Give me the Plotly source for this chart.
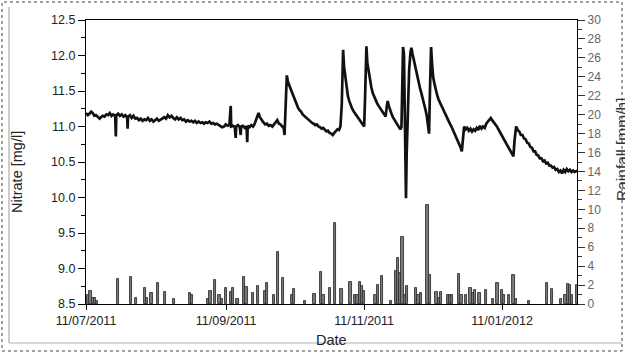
import pandas as pd
import plotly.graph_objects as go

START = "2011-07-11"

# Nitrate [mg/l]: days after 11/07/2011, value
nitrate_day = [
    0, 0.8, 1.5, 2.3, 3.0, 3.7, 4.4, 5.2, 6.0, 6.6, 7.4, 8.2, 9.0, 9.8, 10.5, 11.3, 12.0, 12.9, 13.2, 13.4,
    14.2, 15.0, 15.8, 16.6, 17.4, 18.2, 18.4, 18.6, 19.4, 20.2, 21.0, 21.8, 22.6, 23.4, 24.2, 25.0, 25.8, 26.6,
    27.4, 28.2, 29.0, 29.8, 30.6, 31.4, 32.2, 33.0, 33.8, 34.6, 35.4, 36.2, 37.0, 37.8, 38.6, 39.4, 40.2, 41.0,
    41.8, 42.6, 43.4, 44.2, 45.0, 45.8, 46.6, 47.4, 48.2, 49.0, 49.8, 50.6, 51.4, 52.2, 53.0, 53.8, 54.6, 55.4,
    56.2, 57.0, 57.8, 58.6, 59.4, 60.2, 61.0, 61.8, 62.6, 63.4, 64.0, 64.2, 65.0, 65.8, 66.2, 66.4, 67.2, 68.0,
    68.4, 68.6, 69.4, 70.2, 71.0, 71.3, 71.5, 72.3, 73.1, 73.9, 74.6, 75.2, 75.8, 76.3, 76.9, 77.6, 78.4, 79.2,
    80.0, 80.8, 81.6, 82.4, 83.2, 84.0, 84.6, 85.3, 86.0, 86.8, 87.4, 87.8, 88.2, 88.8, 89.3, 89.8, 90.4, 91.0,
    91.6, 92.3, 93.0, 93.7, 94.4, 95.1, 95.8, 96.5, 97.2, 97.9, 98.6, 99.3, 100.0, 100.7, 101.4, 102.1, 102.8,
    103.5, 104.2, 104.9, 105.6, 106.3, 107.0, 107.7, 108.4, 109.1, 109.8, 110.5, 111.2, 111.9, 112.5, 113.1,
    113.7, 114.1, 114.6, 115.2, 115.8, 116.4, 117.0, 117.7, 118.4, 119.1, 119.8, 120.5, 121.2, 121.9, 122.5,
    123.0, 123.4, 124.0, 124.4, 125.0, 125.6, 126.2, 126.8, 127.4, 128.0, 128.7, 129.4, 130.1, 130.8, 131.5,
    132.1, 132.5, 133.0, 133.4, 133.9, 134.5, 135.1, 135.7, 136.4, 137.1, 137.8, 138.4, 139.0, 139.5, 139.9,
    140.2, 140.6, 140.9, 141.2, 141.5, 141.8, 142.3, 142.9, 143.5, 143.9, 144.4, 144.9, 145.5, 146.0, 146.5,
    147.1, 147.7, 148.3, 148.9, 149.5, 150.1, 150.7, 151.2, 151.7, 152.1, 152.6, 153.0, 153.5, 154.1, 154.7,
    155.3, 155.9, 156.6, 157.3, 158.0, 158.8, 159.5, 160.2, 160.9, 161.6, 162.3, 163.0, 163.7, 164.4, 165.1,
    165.7, 166.2, 166.6, 167.2, 167.9, 168.6, 169.3, 170.0, 170.7, 171.4, 172.1, 172.8, 173.5, 174.2, 174.9,
    175.6, 176.3, 177.0, 177.7, 178.4, 179.0, 179.6, 180.3, 181.0, 181.7, 182.4, 183.1, 183.8, 184.5, 185.2,
    185.9, 186.6, 187.3, 188.0, 188.6, 189.0, 189.5, 190.2, 190.9, 191.6, 192.3, 193.0, 193.7, 194.4, 195.1,
    195.8, 196.5, 197.2, 197.9, 198.6, 199.3, 200.0, 200.7, 201.4, 202.1, 202.8, 203.5, 204.2, 204.9, 205.6,
    206.3, 207.0, 207.7, 208.4, 209.1, 209.8, 210.5, 211.2, 211.9, 212.6, 213.3, 214.0, 214.7, 215.4, 216.1,
    216.8, 217.1,
]
nitrate_val = [
    11.19, 11.16, 11.18, 11.21, 11.19, 11.15, 11.16, 11.13, 11.11, 11.13, 11.15, 11.14, 11.17, 11.16, 11.19,
    11.15, 11.17, 11.15, 10.86, 11.16, 11.18, 11.15, 11.17, 11.14, 11.16, 11.13, 10.97, 11.14, 11.16, 11.12,
    11.15, 11.11, 11.12, 11.09, 11.11, 11.08, 11.10, 11.09, 11.12, 11.08, 11.10, 11.07, 11.09, 11.11, 11.08,
    11.10, 11.11, 11.13, 11.11, 11.16, 11.13, 11.15, 11.12, 11.10, 11.13, 11.10, 11.12, 11.09, 11.10, 11.07,
    11.09, 11.07, 11.08, 11.06, 11.08, 11.05, 11.07, 11.05, 11.06, 11.04, 11.06, 11.05, 11.07, 11.04, 11.05,
    11.03, 11.04, 11.02, 11.01, 10.99, 11.00, 11.03, 11.01, 11.02, 11.29, 11.00, 11.01, 10.99, 10.84, 11.00,
    11.02, 10.99, 10.88, 11.00, 11.01, 10.98, 11.00, 10.78, 11.01, 10.99, 11.02, 11.00, 11.04, 11.09, 11.16,
    11.19, 11.13, 11.09, 11.06, 11.03, 11.04, 11.01, 11.02, 11.00, 11.03, 11.07, 11.09, 11.04, 11.03, 11.00,
    10.98, 10.88, 11.20, 11.72, 11.63, 11.58, 11.52, 11.49, 11.44, 11.38, 11.33, 11.27, 11.23, 11.21, 11.17,
    11.15, 11.13, 11.10, 11.09, 11.07, 11.05, 11.04, 11.02, 11.03, 11.00, 10.99, 10.97, 10.98, 10.95, 10.93,
    10.94, 10.91, 10.90, 10.88, 10.91, 10.93, 10.96, 10.95, 11.00, 11.30, 12.08, 11.85, 11.70, 11.55, 11.43,
    11.36, 11.30, 11.25, 11.21, 11.18, 11.14, 11.11, 11.08, 11.05, 11.03, 11.00, 11.40, 12.13, 11.90, 11.76,
    11.65, 11.55, 11.47, 11.42, 11.37, 11.33, 11.29, 11.26, 11.22, 11.19, 11.16, 11.14, 11.28, 11.36, 11.29,
    11.22, 11.18, 11.13, 11.09, 11.05, 11.01, 10.98, 10.96, 10.99, 11.60, 12.12, 12.02, 11.30, 10.50, 9.99,
    10.60, 11.30, 11.80, 12.05, 12.11, 12.02, 11.94, 11.84, 11.76, 11.70, 11.62, 11.54, 11.47, 11.40, 11.33,
    11.24, 11.15, 11.05, 10.90, 11.50, 12.12, 11.90, 11.70, 11.60, 11.50, 11.44, 11.38, 11.33, 11.28, 11.24,
    11.19, 11.14, 11.09, 11.04, 11.00, 10.95, 10.91, 10.86, 10.80, 10.75, 10.70, 10.65, 10.82, 11.00, 10.96,
    10.98, 10.94, 10.97, 10.93, 10.96, 10.94, 10.98, 10.95, 11.01, 10.97, 11.00, 10.98, 11.04, 11.07, 11.10,
    11.12, 11.09, 11.05, 11.03, 11.00, 10.96, 10.93, 10.89, 10.85, 10.81, 10.77, 10.73, 10.69, 10.65, 10.61,
    10.58, 10.80, 11.00, 10.95, 10.93, 10.88, 10.88, 10.83, 10.82, 10.77, 10.76, 10.71, 10.70, 10.65, 10.65,
    10.60, 10.59, 10.55, 10.55, 10.51, 10.52, 10.48, 10.49, 10.45, 10.45, 10.42, 10.43, 10.39, 10.40, 10.36,
    10.38, 10.34, 10.39, 10.36, 10.40, 10.37, 10.39, 10.36, 10.38, 10.36, 10.37, 10.36,
]

# Rainfall [mm/h]: days after 11/07/2011, value
rain_day = [
    1, 2, 3, 4, 5, 14, 20, 22, 26, 27, 29, 32, 35, 39, 46, 47, 54, 55, 57, 59, 60, 62, 64, 65, 67, 70, 71, 74,
    76, 79, 80, 83, 85, 87, 91, 92, 97, 101, 104, 105, 108, 110, 113, 117, 119, 120, 121, 122, 123, 128, 129,
    131, 135, 137, 138, 139, 140, 141, 142, 146, 147, 148, 151, 152, 155, 156, 157, 160, 161, 162, 165, 166,
    168, 170, 171, 172, 174, 177, 180, 182, 184, 185, 187, 189, 190, 196, 204, 206, 210, 212, 213, 214, 215, 217,
]
rain_val = [
    0.95, 1.4, 0.6, 0.6, 0.3, 2.65, 2.8, 0.6, 1.65, 0.6, 1.2, 2.25, 1.3, 0.5, 1.2, 0.9, 0.5, 1.4, 2.5, 0.9, 0.5,
    1.7, 1.3, 1.7, 0.5, 2.8, 1.75, 1.2, 1.9, 1.4, 2.25, 0.9, 5.5, 2.75, 0.9, 1.55, 0.3, 1.1, 3.35, 0.9, 1.65,
    8.55, 1.55, 2.3, 0.9, 1.0, 2.3, 1.9, 1.4, 0.9, 2.0, 2.95, 0.3, 3.5, 4.85, 3.3, 7.1, 0.9, 1.85, 1.7, 0.9,
    1.2, 10.5, 3.05, 1.3, 0.6, 1.3, 0.9, 0.9, 1.0, 3.15, 0.9, 0.9, 1.65, 1.2, 1.5, 1.2, 1.45, 0.5, 2.2, 1.5,
    0.9, 0.9, 3.05, 0.5, 0.3, 2.2, 1.6, 0.5, 0.9, 2.1, 2.0, 0.9, 2.0,
]

date_ticks = ["2011-07-11", "2011-09-11", "2011-11-11", "2012-01-11"]
date_labels = ["11/07/2011", "11/09/2011", "11/11/2011", "11/01/2012"]
x_range = ["2011-07-11", "2012-02-13 03:00"]

t0 = pd.Timestamp(START)
nitrate_dates = [t0 + pd.Timedelta(days=d) for d in nitrate_day]
rain_dates = [t0 + pd.Timedelta(days=d) for d in rain_day]

FONT = "Liberation Sans, Arial, sans-serif"

fig = go.Figure()
fig.add_trace(go.Bar(
    x=rain_dates, y=rain_val, yaxis="y2",
    width=86400000 * 1.0,
    marker=dict(color="#7a7a7a", line=dict(color="#333333", width=0.9)),
    showlegend=False,
))
fig.add_trace(go.Scatter(
    x=nitrate_dates, y=nitrate_val, mode="lines",
    line=dict(color="#111111", width=2.7),
    showlegend=False,
))

W, H = 625, 353
L, R, T, B = 86, 48, 20, 49
pw, ph = W - L - R, H - T - B

def px(x):
    return (x - L) / pw

def py(y):
    return (H - B - y) / ph

fig.update_layout(
    width=W, height=H,
    margin=dict(l=L, r=R, t=T, b=B, pad=0),
    paper_bgcolor="white", plot_bgcolor="white",
    font=dict(family=FONT, color="#222222", size=12.5),
    bargap=0,
    xaxis=dict(
        range=x_range, type="date",
        tickvals=date_ticks, ticktext=date_labels,
        ticks="outside", ticklen=5, tickwidth=1.2, tickcolor="black",
        showline=True, linecolor="black", linewidth=1.2, mirror=True,
        showgrid=False, zeroline=False,
        tickfont=dict(size=12.5, color="#222222"),
    ),
    yaxis=dict(
        range=[8.5, 12.5], tickvals=[8.5, 9.0, 9.5, 10.0, 10.5, 11.0, 11.5, 12.0, 12.5],
        tickformat=".1f",
        ticks="outside", ticklen=7, tickwidth=1.2, tickcolor="black",
        minor=dict(tickvals=[8.75, 9.25, 9.75, 10.25, 10.75, 11.25, 11.75, 12.25],
                   ticks="outside", ticklen=4, tickcolor="black", tickwidth=1),
        showline=True, linecolor="black", linewidth=1.2,
        showgrid=False, zeroline=False,
        tickfont=dict(size=12.5, color="#222222"),
    ),
    yaxis2=dict(
        range=[0, 30], overlaying="y", side="right",
        tickvals=list(range(0, 31, 2)),
        ticks="outside", ticklen=7, tickwidth=1.2, tickcolor="#333333",
        minor=dict(tickvals=list(range(1, 30, 2)), ticks="outside", ticklen=4,
                   tickcolor="#333333", tickwidth=1),
        showline=True, linecolor="black", linewidth=1.2,
        showgrid=False, zeroline=False,
        tickfont=dict(size=12, color="#666666"),
    ),
    annotations=[
        dict(text="Nitrate [mg/l]", x=px(17), y=py(172), xref="paper", yref="paper",
             textangle=-90, showarrow=False, xanchor="center", yanchor="middle",
             font=dict(size=14.5, color="#222222", family=FONT)),
        dict(text="Rainfall [mm/h]", x=px(622), y=py(150), xref="paper", yref="paper",
             textangle=-90, showarrow=False, xanchor="center", yanchor="middle",
             font=dict(size=15.5, color="#333333", family=FONT)),
        dict(text="Date", x=0.5, y=py(340), xref="paper", yref="paper",
             showarrow=False, xanchor="center", yanchor="middle",
             font=dict(size=14.5, color="#222222", family=FONT)),
    ],
    shapes=[
        dict(type="rect", xref="paper", yref="paper",
             x0=px(2), x1=px(622), y0=py(351), y1=py(2),
             line=dict(color="#444444", width=1, dash="dot"), layer="below"),
        dict(type="line", xref="paper", yref="paper",
             x0=px(9), x1=px(9), y0=py(343), y1=py(7),
             line=dict(color="#9a9a9a", width=1)),
        dict(type="line", xref="paper", yref="paper",
             x0=px(9), x1=px(622), y0=py(343), y1=py(343),
             line=dict(color="#b0b0b0", width=1)),
    ],
)

fig.write_html(
    "out.html",
    config={"displayModeBar": False},
    post_script="document.body.style.margin='0px';document.body.style.overflow='hidden';",
)
